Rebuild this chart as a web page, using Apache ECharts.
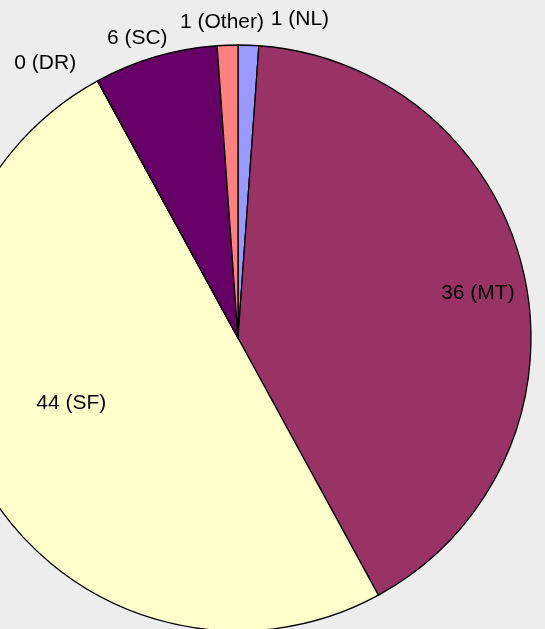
<!DOCTYPE html>
<html>
<head>
<meta charset="utf-8">
<script src="https://cdn.jsdelivr.net/npm/echarts@6/dist/echarts.min.js"></script>
<style>
html,body{margin:0;padding:0;background:#EDEDED;}
#chart{width:545px;height:629px;}
</style>
</head>
<body>
<div id="chart"></div>
<script>
// Data
const categories = ['NL', 'MT', 'SF', 'DR', 'SC', 'Other'];
const values = [1, 36, 44, 0, 6, 1];

// Styles
const sliceColors = ['#9999FF', '#993366', '#FFFFCC', '#CCFFFF', '#660066', '#FF8080'];
const CX = 238, CY = 338, R = 293;
// label placement: radius factor and angular turn (deg) relative to slice mid-angle
const labelRadius = [1.108, 0.833, 0.611, 1.146, 1.080, 1.080];
const labelTurn = [8.95, 1.7, 7.3, -6.4, -2.2, -0.85];

const total = values.reduce((a, b) => a + b, 0);
const midAngles = [];
let acc = 0;
values.forEach(v => { midAngles.push((acc + v / 2) / total * 360); acc += v; });

const chart = echarts.init(document.getElementById('chart'));
chart.setOption({
  backgroundColor: '#EDEDED',
  animation: false,
  series: [{
    type: 'pie',
    center: [CX, CY],
    radius: R,
    startAngle: 90,
    clockwise: true,
    avoidLabelOverlap: false,
    minShowLabelAngle: 0,
    itemStyle: { borderColor: '#000', borderWidth: 1.3 },
    emphasis: { disabled: true },
    label: {
      show: true,
      position: 'outside',
      color: '#000',
      fontFamily: 'Liberation Sans, Arial, sans-serif',
      fontSize: 21,
      formatter: p => p.value + ' (' + p.name + ')'
    },
    labelLine: { show: false },
    labelLayout: function (p) {
      const i = p.dataIndex;
      const a = (midAngles[i] + labelTurn[i]) * Math.PI / 180;
      const r = R * labelRadius[i];
      return {
        x: CX + r * Math.sin(a),
        y: CY - r * Math.cos(a),
        align: 'center',
        verticalAlign: 'middle'
      };
    },
    data: categories.map((c, i) => ({
      name: c,
      value: values[i],
      itemStyle: { color: sliceColors[i] }
    }))
  }]
});
</script>
</body>
</html>
